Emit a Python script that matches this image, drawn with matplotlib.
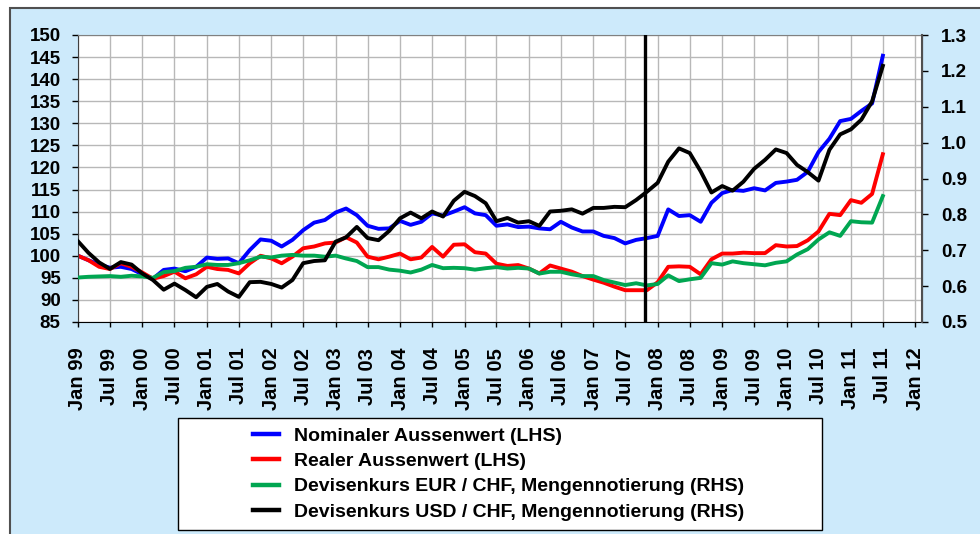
import numpy as np
import pandas as pd
import matplotlib
matplotlib.use("Agg")
import matplotlib.pyplot as plt
from matplotlib.patches import Rectangle
from matplotlib import font_manager

# two-monthly readings, Jan 1999 .. Jul 2011 (Jan, Mar, May, Jul, Sep, Nov)
start = "1999-01-01"
nominal = [100.0, 99.0, 98.0, 97.3, 97.5, 97.0,
           95.8, 94.8, 96.8, 97.1, 96.5, 97.5,
           99.6, 99.3, 99.4, 98.3, 101.3, 103.7,
           103.4, 102.1, 103.6, 105.8, 107.5, 108.1,
           109.8, 110.7, 109.2, 106.8, 106.1, 106.2,
           107.9, 107.0, 107.7, 109.6, 109.1, 110.0,
           111.0, 109.6, 109.2, 106.8, 107.1, 106.5,
           106.6, 106.2, 106.0, 107.7, 106.4, 105.5,
           105.5, 104.5, 104.0, 102.8, 103.6, 104.0,
           104.5, 110.5, 109.0, 109.2, 107.7, 112.0,
           114.2, 114.9, 114.7, 115.3, 114.8, 116.5,
           116.8, 117.2, 119.0, 123.5, 126.5, 130.5,
           131.0, 132.8, 134.5, 145.3]
real = [100.0, 99.0, 97.5, 97.0, 98.3, 97.5,
        96.2, 94.8, 95.4, 96.4, 94.9, 95.8,
        97.5, 97.0, 96.8, 96.0, 98.3, 100.0,
        99.4, 98.3, 99.8, 101.7, 102.1, 102.8,
        103.0, 104.2, 103.0, 99.8, 99.2, 99.8,
        100.5, 99.2, 99.6, 102.0, 99.8, 102.5,
        102.6, 100.8, 100.5, 98.2, 97.7, 97.9,
        97.1, 96.0, 97.8, 97.1, 96.4, 95.4,
        94.6, 93.9, 93.0, 92.2, 92.2, 92.2,
        94.0, 97.5, 97.6, 97.5, 95.8, 99.2,
        100.5, 100.5, 100.7, 100.6, 100.6, 102.4,
        102.1, 102.2, 103.5, 105.5, 109.5, 109.2,
        112.6, 112.0, 114.0, 123.0]
eur_chf = [0.624, 0.626, 0.627, 0.628, 0.626, 0.629,
           0.627, 0.623, 0.639, 0.642, 0.651, 0.654,
           0.661, 0.659, 0.659, 0.664, 0.672, 0.682,
           0.680, 0.685, 0.687, 0.685, 0.685, 0.682,
           0.685, 0.677, 0.670, 0.653, 0.653, 0.646,
           0.643, 0.638, 0.646, 0.659, 0.650, 0.651,
           0.650, 0.646, 0.650, 0.653, 0.649, 0.651,
           0.649, 0.635, 0.640, 0.640, 0.633, 0.628,
           0.628, 0.617, 0.610, 0.603, 0.608, 0.602,
           0.606, 0.630, 0.614, 0.619, 0.623, 0.664,
           0.660, 0.669, 0.664, 0.661, 0.658, 0.665,
           0.669, 0.688, 0.703, 0.730, 0.750, 0.740,
           0.781, 0.778, 0.777, 0.851]
usd_chf = [0.725, 0.693, 0.666, 0.648, 0.667, 0.660,
           0.635, 0.617, 0.590, 0.607, 0.589, 0.569,
           0.598, 0.606, 0.585, 0.570, 0.611, 0.612,
           0.606, 0.596, 0.617, 0.664, 0.670, 0.672,
           0.724, 0.736, 0.765, 0.734, 0.728, 0.754,
           0.789, 0.805, 0.789, 0.808, 0.794, 0.838,
           0.863, 0.851, 0.831, 0.781, 0.790, 0.777,
           0.781, 0.768, 0.808, 0.810, 0.814, 0.802,
           0.818, 0.818, 0.821, 0.820, 0.840, 0.863,
           0.888, 0.947, 0.984, 0.971, 0.920, 0.861,
           0.879, 0.866, 0.891, 0.927, 0.952, 0.981,
           0.971, 0.938, 0.918, 0.894, 0.980, 1.023,
           1.037, 1.064, 1.115, 1.214]
labels = ["Nominaler Aussenwert (LHS)",
          "Realer Aussenwert (LHS)",
          "Devisenkurs EUR / CHF, Mengennotierung (RHS)",
          "Devisenkurs USD / CHF, Mengennotierung (RHS)"]
marker_date = "2007-10-24"

dates = pd.date_range(start, periods=len(nominal), freq="2MS")

# fonts
names = {f.name for f in font_manager.fontManager.ttflist}
plt.rcParams["font.family"] = ["Liberation Sans", "DejaVu Sans"]
plt.rcParams["font.weight"] = "bold"
if "Liberation Sans Narrow" in names:
    leg_font = dict(family="Liberation Sans Narrow", weight="bold", size=16.5)
else:
    leg_font = dict(family="Liberation Sans", weight="bold", size=14)

W, H = 980, 534
fig = plt.figure(figsize=(W / 100, H / 100), dpi=100)
fig.patch.set_facecolor("white")

# light blue panel with border on left/top
fig.add_artist(Rectangle((10 / W, -0.05), 1.0, (H - 8) / H + 0.05, transform=fig.transFigure,
                         facecolor="#cdeafb", edgecolor="#505050", lw=1.5, zorder=0))

ax = fig.add_axes([78 / W, (H - 322) / H, 844 / W, 287 / H])
ax.set_facecolor("white")
ax2 = ax.twinx()

col_blue, col_red, col_green, col_black = "#0000ff", "#ff0000", "#00a651", "#000000"
lw = 2.8
l1, = ax.plot(dates, nominal, color=col_blue, lw=lw, label=labels[0])
l2, = ax.plot(dates, real, color=col_red, lw=lw, label=labels[1])
l3, = ax2.plot(dates, eur_chf, color=col_green, lw=lw, label=labels[2])
l4, = ax2.plot(dates, usd_chf, color=col_black, lw=lw, label=labels[3])
ax2.axvline(pd.Timestamp(marker_date), color="black", lw=2.4, zorder=5)

ax.set_xlim(pd.Timestamp("1999-01-01"), pd.Timestamp("2012-02-08"))
ax.set_ylim(85, 150)
ax2.set_ylim(0.5, 1.3)
ax.set_yticks(np.arange(85, 151, 5))
ax2.set_yticks(np.arange(0.5, 1.31, 0.1))
ax2.set_yticklabels([f"{v:.1f}" for v in np.arange(0.5, 1.31, 0.1)])

xt = pd.date_range("1999-01-01", "2012-01-01", freq="6MS")
ax.set_xticks(xt)
ax.set_xticklabels([d.strftime("%b %y") for d in xt], rotation=90, fontsize=14.5)

ax.grid(True, color="#b8b8b8", lw=1)
ax.set_axisbelow(True)
ax.tick_params(axis="y", length=4.5, width=1, pad=8, labelsize=13.5)
ax.tick_params(axis="x", length=3.5, width=1, pad=15, color="black")
ax2.tick_params(axis="y", length=4.5, width=1, pad=9, labelsize=13.5)

ax.spines["top"].set_color("#808080")
ax.spines["left"].set_color("#404040")
ax.spines["bottom"].set_color("black")
for s in ["top", "left", "bottom"]:
    ax2.spines[s].set_visible(False)
ax2.spines["right"].set_color("#505050")
ax2.spines["right"].set_linewidth(1.5)

# legend box
fig.add_artist(Rectangle((178 / W, (H - 530) / H), 644 / W, 112 / H, transform=fig.transFigure,
                         facecolor="white", edgecolor="black", lw=1, zorder=1))
leg = fig.legend([l1, l2, l3, l4], labels, loc="upper left",
                 bbox_to_anchor=(253 / W, (H - 427) / H), frameon=False,
                 prop=leg_font, handlelength=1.35, handletextpad=0.75,
                 labelspacing=0.4, borderpad=0, borderaxespad=0)
for line in leg.get_lines():
    line.set_linewidth(3.2)
leg.set_zorder(2)

fig.savefig("out.png", dpi=100)
